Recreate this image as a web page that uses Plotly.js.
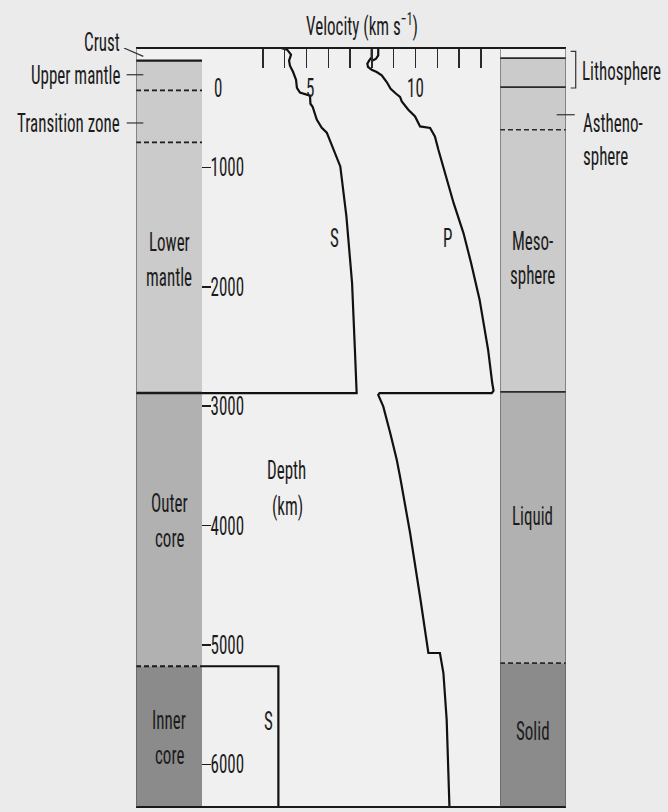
<!DOCTYPE html>
<html><head><meta charset="utf-8">
<script src="https://cdn.plot.ly/plotly-3.0.1.min.js"></script>
<style>html,body{margin:0;padding:0;background:#ebebeb;} #chart{width:668px;height:812px;}</style>
</head><body><div id="chart"></div>
<script>
// ---- data ----
// S-wave velocity (km/s) vs depth (km)
const sVel   = [3.83,4.11,4.29,4.20,4.24,4.38,4.52,4.56,4.70,4.98,5.16,5.18,5.28,5.47,5.70,5.93,6.26,6.55,6.83,7.09,7.22,7.32,7.30,0,0,3.71,3.71];
const sDepth = [0,14,56,106,148,199,266,333,374,391,399,467,492,600,668,709,852,992,1410,1968,2527,2862,2890,2890,5178,5178,6371];
// P-wave velocity (km/s) vs depth (km)
const pVel   = [8.29,8.29,8.19,8.04,null,7.99,7.99,7.88,7.79,7.82,7.99,8.22,8.45,8.68,8.86,9.11,9.29,9.37,9.67,9.98,10.21,10.67,10.89,11.05,11.43,11.75,12.2,12.55,12.94,13.33,13.52,13.58,13.5,8.35,8.29,8.52,8.84,9.14,9.30,9.75,10.23,10.52,10.59,11.12,11.28,11.43,11.55,11.56];
const pDepth = [0,62,90,104,null,0,76,104,131,159,182,201,229,285,341,383,410,447,517,573,657,670,740,852,1103,1300,1550,1800,2108,2527,2806,2870,2890,2890,2905,3002,3224,3448,3600,4060,4621,5012,5067,5067,5235,5626,6323,6371];

// axes
const velTicks = [1,2,3,4,5,6,7,8,9,10,11,12,13];
const velLabelVals = [0,5,10];
const velLabels = ['0','5','10'];
const depthTicks = [1000,2000,3000,4000,5000,6000];

// left column (compositional layers)
const leftTop = [0,106,2890,5178];
const leftBot = [106,2890,5178,6371];
const leftLines = [106,355,791,2890,5178];
const leftLineDashed = [false,true,true,false,true];
const leftNames = [['Lower','mantle'],['Outer','core'],['Inner','core']];
const leftNameDepth = [[1623,1915],[3808,4101],[5626,5919]];
const leftSideNames = ['Upper mantle','Transition zone'];
const leftSideDepth = [224,628];

// right column (mechanical layers)
const rightTop = [0,84,2880,5152];
const rightBot = [84,2880,5152,6371];
const rightLines = [84,327,685,2880,5152];
const rightLineDashed = [false,false,true,false,true];
const rightNames = [['Meso-','sphere'],['Liquid'],['Solid']];
const rightNameDepth = [[1620,1899],[3923],[5718]];

// ---- styles ----
const FONT = "'Roboto Condensed','Liberation Sans Narrow','Liberation Sans',sans-serif";
const FS = 17;
const STRETCH = 1.5;   // tall condensed lettering of the original
const TXT = '#1c1c1c';
const leftFill = ['#f1f1f1','#cbcbcb','#b1b1b1','#8b8b8b'];
const rightFill = ['#f1f1f1','#cbcbcb','#b1b1b1','#8b8b8b'];
const XR = [0.206,13.876];
const YR = [6357,0];
const dL = 0.1535, dR = 0.8465;

const traces = [
  {x:sVel, y:sDepth, xaxis:'x', yaxis:'y', mode:'lines', line:{color:'#111',width:2.2}, connectgaps:false, hoverinfo:'skip'},
  {x:pVel, y:pDepth, xaxis:'x', yaxis:'y', mode:'lines', line:{color:'#111',width:2.2}, connectgaps:false, hoverinfo:'skip'}
];

const shapes = [];
leftTop.forEach((t,i)=>shapes.push({type:'rect',xref:'x2',yref:'y',x0:0,x1:1,y0:t,y1:leftBot[i],fillcolor:leftFill[i],line:{width:0},layer:'below'}));
rightTop.forEach((t,i)=>shapes.push({type:'rect',xref:'x3',yref:'y',x0:0,x1:1,y0:t,y1:rightBot[i],fillcolor:rightFill[i],line:{width:0},layer:'below'}));
leftLines.forEach((d,i)=>shapes.push({type:'line',xref:'x2',yref:'y',x0:0,x1:1,y0:d,y1:d,
  line:{color:'#1a1a1a',width:leftLineDashed[i]?1.8:2.4,dash:leftLineDashed[i]?'5px,3px':'solid'}}));
rightLines.forEach((d,i)=>shapes.push({type:'line',xref:'x3',yref:'y',x0:0,x1:1,y0:d,y1:d,
  line:{color:'#2a2a2a',width:rightLineDashed[i]?1.6:1.8,dash:rightLineDashed[i]?'5px,3px':'solid'}}));
// frame
shapes.push({type:'line',xref:'paper',yref:'paper',x0:0,x1:1,y0:1,y1:1,line:{color:'#1a1a1a',width:2}});
shapes.push({type:'line',xref:'paper',yref:'paper',x0:0,x1:1,y0:0,y1:0,line:{color:'#1a1a1a',width:2}});
shapes.push({type:'line',xref:'x2',yref:'paper',x0:0,x1:0,y0:0,y1:1,line:{color:'#555',width:1.2}});
shapes.push({type:'line',xref:'x3',yref:'paper',x0:0,x1:0,y0:0,y1:1,line:{color:'#555',width:1.2}});
shapes.push({type:'line',xref:'x3',yref:'paper',x0:1,x1:1,y0:0,y1:1,line:{color:'#555',width:1.2}});
// leaders
shapes.push({type:'line',xref:'paper',yref:'y',x0:-0.028,x1:0.017,y0:0,y1:70,line:{color:'#333',width:1.2}});
leftSideDepth.forEach(d=>shapes.push({type:'line',xref:'paper',yref:'y',x0:-0.0216,x1:0.017,y0:d,y1:d,line:{color:'#333',width:1.2}}));
shapes.push({type:'path',xref:'paper',yref:'y',path:'M 1.0109,28 L 1.0226,28 L 1.0226,335 L 1.0109,335',line:{color:'#333',width:1.2}});
shapes.push({type:'line',xref:'paper',yref:'y',x0:0.9784,x1:1.0202,y0:559,y1:559,line:{color:'#333',width:1.2}});

const ann = [];
const A = (o)=>ann.push(Object.assign({showarrow:false,font:{family:FONT,size:FS,color:TXT}},o));
velLabelVals.forEach((v,i)=>A({xref:'x',yref:'y',x:Math.max(v,XR[0]),y:335,text:velLabels[i],xshift:[16,3,0][i],xanchor:'center',yanchor:'middle'}));
leftNames.forEach((ln,i)=>ln.forEach((t,j)=>A({xref:'x2',yref:'y',x:0.5,y:leftNameDepth[i][j],text:t,xanchor:'center',yanchor:'middle'})));
rightNames.forEach((ln,i)=>ln.forEach((t,j)=>A({xref:'x3',yref:'y',x:0.5,y:rightNameDepth[i][j],text:t,xanchor:'center',yanchor:'middle'})));
A({xref:'paper',yref:'paper',x:-0.0333,y:1.0076,text:'Crust',xanchor:'right',yanchor:'middle'});
leftSideNames.forEach((t,i)=>A({xref:'paper',yref:'y',x:-0.0333,y:leftSideDepth[i],text:t,xanchor:'right',yanchor:'middle'}));
A({xref:'paper',yref:'y',x:1.0326,y:196,text:'Lithosphere',xanchor:'left',yanchor:'middle'});
A({xref:'paper',yref:'y',x:1.0342,y:628,text:'Astheno-',xanchor:'left',yanchor:'middle'});
A({xref:'paper',yref:'y',x:1.0342,y:908,text:'sphere',xanchor:'left',yanchor:'middle'});
A({xref:'x',yref:'y',x:6.29,y:1591,text:'S',xanchor:'center',yanchor:'middle'});
A({xref:'x',yref:'y',x:11.49,y:1591,text:'P',xanchor:'center',yanchor:'middle'});
A({xref:'x',yref:'y',x:3.25,y:5640,text:'S',xanchor:'center',yanchor:'middle'});
A({xref:'x',yref:'y',x:4.08,y:3532,text:'Depth',xanchor:'center',yanchor:'middle'});
A({xref:'x',yref:'y',x:4.12,y:3833,text:'(km)',xanchor:'center',yanchor:'middle'});

const layout = {
  width:668, height:812,
  paper_bgcolor:'#ebebeb', plot_bgcolor:'#f0f0f0',
  margin:{l:136,r:102,t:48,b:5},
  showlegend:false,
  font:{family:FONT,size:FS,color:TXT},
  title:{text:'Velocity (km s<sup>−1</sup>)', x:362/668, xanchor:'center', y:1-26/812, yanchor:'middle', font:{family:FONT,size:FS,color:TXT}},
  xaxis:{domain:[dL,dR], range:XR, side:'top', anchor:'y', ticks:'inside', ticklen:20, tickwidth:1.5, tickcolor:'#2a2a2a',
         tickvals:velTicks, showticklabels:false, showgrid:false, zeroline:false, showline:false},
  xaxis2:{domain:[0,dL], range:[0,1], visible:false, anchor:'y'},
  xaxis3:{domain:[dR,1], range:[0,1], visible:false, anchor:'y'},
  yaxis:{range:YR, anchor:'x', ticks:'inside', ticklen:9, tickwidth:1.5, tickcolor:'#1c1c1c',
         tickvals:depthTicks, ticktext:depthTicks.map(String), ticklabelposition:'inside',
         tickfont:{family:FONT,size:FS,color:TXT},
         showline:true, linecolor:'#111', linewidth:2, showgrid:false, zeroline:false},
  shapes:shapes, annotations:ann
};
Plotly.newPlot('chart', traces, layout, {displayModeBar:false, staticPlot:true}).then(gd=>{
  // stretch each label vertically about its own centre (tall condensed lettering)
  gd.querySelectorAll('text').forEach(t=>{
    if(!t.textContent.trim()) return;
    let b; try{ b = t.getBBox(); }catch(e){ return; }
    if(!b || !b.height) return;
    const cx = b.x + b.width/2, cy = b.y + b.height/2;
    const prev = t.getAttribute('transform') || '';
    t.setAttribute('transform', prev + ` translate(${cx},${cy}) scale(1,${STRETCH}) translate(${-cx},${-cy})`);
  });
});
</script></body></html>
